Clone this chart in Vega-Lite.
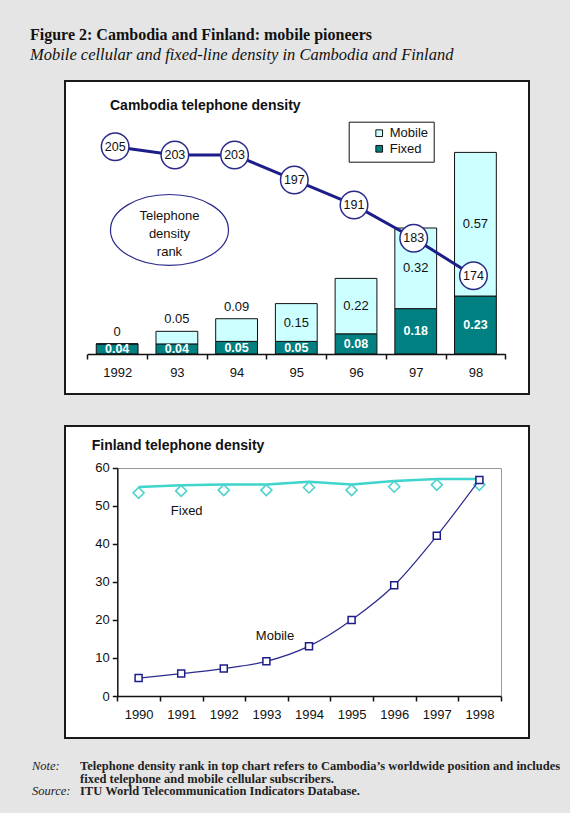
{
  "$schema": "https://vega.github.io/schema/vega-lite/v6.json",
  "background": "#e5e5e5",
  "padding": {"left": 30, "top": 26, "right": 0, "bottom": 0},
  "title": {
    "text": "Figure 2: Cambodia and Finland: mobile pioneers",
    "subtitle": "Mobile cellular and fixed-line density in Cambodia and Finland",
    "anchor": "start", "frame": "group", "dx": -35, "offset": 17,
    "font": "Liberation Serif", "fontSize": 16, "fontWeight": "bold", "color": "#111",
    "subtitleFont": "Liberation Serif", "subtitleFontSize": 16.5, "subtitleFontStyle": "italic", "subtitleColor": "#111", "subtitlePadding": 3.6
  },
  "bounds": "flush",
  "spacing": 32,
  "vconcat": [
    {
      "width": 464, "height": 313,
      "view": {"fill": "white", "stroke": "#1a1a1a", "strokeWidth": 2},
      "title": {"text": "Cambodia telephone density", "anchor": "start", "frame": "group", "dx": 45, "offset": -32, "font": "Liberation Sans", "fontSize": 14, "fontWeight": "bold", "color": "#111"},
      "resolve": {"scale": {"y": "independent"}},
      "layer": [
        {
          "data": {"values": [
            {"year": "1992", "type": "Fixed", "value": 0.04}, {"year": "1992", "type": "Mobile", "value": 0},
            {"year": "93", "type": "Fixed", "value": 0.04}, {"year": "93", "type": "Mobile", "value": 0.05},
            {"year": "94", "type": "Fixed", "value": 0.05}, {"year": "94", "type": "Mobile", "value": 0.09},
            {"year": "95", "type": "Fixed", "value": 0.05}, {"year": "95", "type": "Mobile", "value": 0.15},
            {"year": "96", "type": "Fixed", "value": 0.08}, {"year": "96", "type": "Mobile", "value": 0.22},
            {"year": "97", "type": "Fixed", "value": 0.18}, {"year": "97", "type": "Mobile", "value": 0.32},
            {"year": "98", "type": "Fixed", "value": 0.23}, {"year": "98", "type": "Mobile", "value": 0.57}
          ]},
          "encoding": {
            "x": {"field": "year", "type": "ordinal",
              "scale": {"type": "band", "domain": ["1992", "93", "94", "95", "96", "97", "98"], "range": [22.3, 440.3], "paddingInner": 0, "paddingOuter": 0},
              "axis": {"title": null, "orient": "bottom", "offset": -40, "tickBand": "extent", "tickSize": 5, "labelPadding": 7, "labelAngle": 0, "grid": false, "zindex": 1}},
            "y": {"field": "value", "type": "quantitative", "stack": "zero", "title": null, "scale": {"domain": [0, 1], "range": [273, 21], "nice": false}, "axis": null},
            "order": {"field": "type", "sort": "ascending"}
          },
          "layer": [
            {"mark": {"type": "bar", "width": {"band": 0.7}, "stroke": "#111", "strokeWidth": 1},
             "encoding": {"color": {"field": "type", "type": "nominal",
               "scale": {"domain": ["Mobile", "Fixed"], "range": ["#ccffff", "#008080"]},
               "legend": {"orient": "none", "legendX": 283.7, "legendY": 40.7, "title": null, "symbolType": "square", "symbolSize": 45, "symbolStrokeColor": "#111", "symbolStrokeWidth": 1, "labelFont": "Liberation Sans", "labelFontSize": 13, "labelColor": "#111", "strokeColor": "#111", "fillColor": "white", "padding": 5, "symbolOffset": 19, "rowPadding": 1.6, "zindex": 1}}}},
            {"mark": {"type": "text", "color": "white", "fontWeight": "bold", "fontSize": 12.5, "baseline": "middle"},
             "encoding": {"y": {"field": "value", "type": "quantitative", "stack": "zero", "bandPosition": 0.5, "title": null},
               "detail": {"field": "type"},
               "text": {"condition": {"test": "datum.type === 'Fixed'", "field": "value", "type": "quantitative", "format": ".2~f"}, "value": ""}}},
            {"mark": {"type": "text", "color": "#111", "fontSize": 13, "baseline": "middle"},
             "encoding": {"y": {"field": "value", "type": "quantitative", "stack": "zero", "bandPosition": 0.5, "title": null},
               "detail": {"field": "type"},
               "text": {"condition": {"test": "datum.type === 'Mobile' && datum.value >= 0.1", "field": "value", "type": "quantitative", "format": ".2~f"}, "value": ""}}},
            {"mark": {"type": "text", "color": "#111", "fontSize": 13, "baseline": "middle", "dy": -12},
             "encoding": {"y": {"field": "value", "type": "quantitative", "stack": "zero", "title": null},
               "detail": {"field": "type"},
               "text": {"condition": {"test": "datum.type === 'Mobile' && datum.value < 0.1", "field": "value", "type": "quantitative", "format": ".2~f"}, "value": ""}}}
          ]
        },
        {
          "data": {"values": [
            {"year": "1992", "rank": 205}, {"year": "93", "rank": 203}, {"year": "94", "rank": 203},
            {"year": "95", "rank": 197}, {"year": "96", "rank": 191}, {"year": "97", "rank": 183}, {"year": "98", "rank": 174}
          ]},
          "encoding": {
            "x": {"field": "year", "type": "ordinal", "bandPosition": 0.5},
            "y": {"field": "rank", "type": "quantitative", "title": null, "scale": {"domain": [150, 210], "range": [294.5, 44.9], "nice": false, "zero": false}, "axis": null}
          },
          "layer": [
            {"mark": {"type": "line", "color": "#1d1d8a", "strokeWidth": 3, "xOffset": -2}},
            {"mark": {"type": "point", "shape": "circle", "size": 760, "filled": true, "fill": "white", "stroke": "#2a2a8a", "strokeWidth": 1.5, "opacity": 1, "xOffset": -2}},
            {"mark": {"type": "text", "fontSize": 12.5, "color": "#111", "baseline": "middle", "xOffset": -2}, "encoding": {"text": {"field": "rank", "type": "quantitative"}}}
          ]
        },
        {
          "data": {"values": [{"label": "Telephone density rank"}]},
          "mark": {"type": "point", "shape": "M-1,0A1,0.6,0,1,1,1,0A1,0.6,0,1,1,-1,0Z", "size": 13924, "filled": false, "stroke": "#2a2a8a", "strokeWidth": 1.2, "opacity": 1, "xOffset": -7.4},
          "encoding": {
            "x": {"datum": "93", "type": "ordinal", "bandPosition": 0.5},
            "y": {"datum": 185, "type": "quantitative", "scale": {"domain": [150, 210], "range": [294.5, 44.9], "nice": false, "zero": false}, "axis": null}
          }
        },
        {
          "data": {"values": [{"label": "Telephone density rank"}]},
          "mark": {"type": "text", "fontSize": 13, "lineHeight": 17.8, "color": "#111", "baseline": "middle", "xOffset": -7.4},
          "encoding": {
            "x": {"datum": "93", "type": "ordinal", "bandPosition": 0.5},
            "y": {"datum": 188.3, "type": "quantitative", "scale": {"domain": [150, 210], "range": [294.5, 44.9], "nice": false, "zero": false}, "axis": null},
            "text": {"value": ["Telephone", "density", "rank"]}
          }
        }
      ]
    },
    {
      "width": 464, "height": 312,
      "view": {"fill": "white", "stroke": "#1a1a1a", "strokeWidth": 2},
      "title": {"text": "Finland telephone density", "anchor": "start", "frame": "group", "dx": 26.7, "offset": -27, "font": "Liberation Sans", "fontSize": 14, "fontWeight": "bold", "color": "#111"},
      "data": {"values": [
        {"year": "1990", "fixed": 53.4, "mobile": 4.7},
        {"year": "1991", "fixed": 53.9, "mobile": 5.9},
        {"year": "1992", "fixed": 54.1, "mobile": 7.2},
        {"year": "1993", "fixed": 54.1, "mobile": 9.1},
        {"year": "1994", "fixed": 54.8, "mobile": 13.1},
        {"year": "1995", "fixed": 54.1, "mobile": 20.0},
        {"year": "1996", "fixed": 55.0, "mobile": 29.1},
        {"year": "1997", "fixed": 55.5, "mobile": 42.1},
        {"year": "1998", "fixed": 55.5, "mobile": 56.8}
      ]},
      "encoding": {
        "x": {"field": "year", "type": "ordinal", "bandPosition": 0.5,
          "scale": {"type": "band", "range": [52.3, 435.7], "paddingInner": 0, "paddingOuter": 0},
          "axis": {"title": null, "orient": "bottom", "offset": -42, "tickBand": "extent", "tickSize": 5, "labelPadding": 7, "labelAngle": 0,
            "grid": true, "gridColor": "#999", "gridWidth": 1, "gridOpacity": {"condition": {"test": "datum.value === '1998'", "value": 1}, "value": 0}, "zindex": 1}}
      },
      "layer": [
        {"mark": {"type": "line", "color": "#3fd4cc", "strokeWidth": 2.5, "yOffset": -5.7},
         "encoding": {"y": {"field": "fixed", "type": "quantitative", "title": null,
           "scale": {"domain": [0, 60], "range": [270, 41.7], "nice": false},
           "axis": {"orient": "left", "offset": -52.3, "values": [0, 10, 20, 30, 40, 50, 60], "tickSize": 5, "labelPadding": 3,
             "grid": true, "gridColor": "#999", "gridWidth": 1, "gridOpacity": {"condition": {"test": "datum.value === 60", "value": 1}, "value": 0}, "zindex": 1}}}},
        {"mark": {"type": "point", "shape": "diamond", "size": 121, "filled": false, "stroke": "#4dd4cc", "strokeWidth": 1.6, "opacity": 1},
         "encoding": {"y": {"field": "fixed", "type": "quantitative", "title": null}}},
        {"mark": {"type": "line", "color": "#2a2a8c", "strokeWidth": 1.2, "interpolate": "monotone"},
         "encoding": {"y": {"field": "mobile", "type": "quantitative", "title": null}}},
        {"mark": {"type": "point", "shape": "square", "size": 49, "filled": true, "fill": "white", "stroke": "#1c1c8c", "strokeWidth": 1.5, "opacity": 1},
         "encoding": {"y": {"field": "mobile", "type": "quantitative", "title": null}}},
        {"data": {"values": [{}]},
         "mark": {"type": "text", "fontSize": 13, "color": "#111", "baseline": "middle", "dx": 5.5},
         "encoding": {"x": {"datum": "1991", "bandPosition": 0.5}, "y": {"datum": 48.7}, "text": {"value": "Fixed"}}},
        {"data": {"values": [{}]},
         "mark": {"type": "text", "fontSize": 13, "color": "#111", "baseline": "middle", "dx": 8.6},
         "encoding": {"x": {"datum": "1993", "bandPosition": 0.5}, "y": {"datum": 15.85}, "text": {"value": "Mobile"}}}
      ]
    },
    {
      "width": 505, "height": 43,
      "data": {"values": [
        {"line": 1, "label": "Note:", "text": "Telephone density rank in top chart refers to Cambodia’s worldwide position and includes"},
        {"line": 2, "label": "", "text": "fixed telephone and mobile cellular subscribers."},
        {"line": 3, "label": "Source:", "text": "ITU World Telecommunication Indicators Database."}
      ]},
      "encoding": {
        "y": {"field": "line", "type": "ordinal", "scale": {"type": "point", "range": [-4, 21], "padding": 0}, "axis": null}
      },
      "layer": [
        {"mark": {"type": "text", "align": "left", "baseline": "middle", "font": "Liberation Serif", "fontStyle": "italic", "fontSize": 12.5, "color": "#222", "dx": -33},
         "encoding": {"x": {"datum": "label", "scale": {"type": "point", "domain": ["label", "text"], "range": [0, 48], "padding": 0}, "axis": null},
           "text": {"field": "label", "type": "nominal"}}},
        {"mark": {"type": "text", "align": "left", "baseline": "middle", "font": "Liberation Serif", "fontWeight": "bold", "fontSize": 12.5, "color": "#222", "dx": -33},
         "encoding": {"x": {"datum": "text"}, "text": {"field": "text", "type": "nominal"}}}
      ]
    }
  ],
  "config": {
    "font": "Liberation Sans",
    "view": {"stroke": null},
    "axis": {"labelFont": "Liberation Sans", "labelFontSize": 13, "labelColor": "#111", "domainColor": "#111", "tickColor": "#111", "domainWidth": 1.5, "tickWidth": 1.5}
  }
}
